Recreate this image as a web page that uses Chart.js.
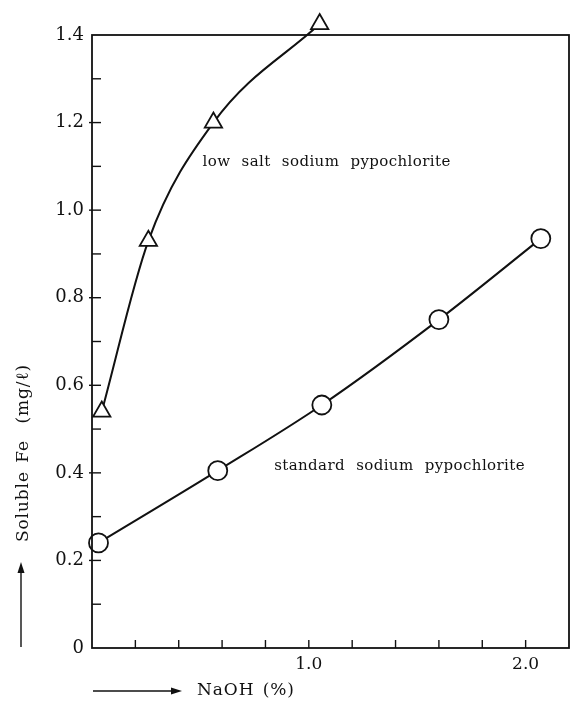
<!DOCTYPE html>
<html>
<head>
<meta charset="utf-8">
<script src="https://cdn.jsdelivr.net/npm/chart.js@4/dist/chart.umd.min.js"></script>
<style>
  html, body { margin: 0; padding: 0; background: #fff; }
  #wrap { width: 582px; height: 707px; }
</style>
</head>
<body>
<div id="wrap"><canvas id="chart" width="582" height="707"></canvas></div>
<script>
// values
const lowSaltNaoh = [0.045, 0.26, 0.56, 1.05];
const lowSaltFe = [0.54, 0.93, 1.20, 1.425];
const standardNaoh = [0.03, 0.58, 1.06, 1.60, 2.07];
const standardFe = [0.24, 0.405, 0.555, 0.75, 0.935];
const xLabelled = [1.0, 2.0];
const xRange = [0, 2.2];
const yRange = [0, 1.4];

const lowSaltLabel = "low salt sodium pypochlorite";
const standardLabel = "standard sodium pypochlorite";
const lowSaltLabelAt = [0.51, 1.11];
const standardLabelAt = [0.84, 0.415];

const ink = "#111";
const serif = "'DejaVu Serif', 'Liberation Serif', serif";

function toPoints(xs, ys) {
  return xs.map((x, i) => ({ x, y: ys[i] }));
}

function arrow(ctx, x1, y1, x2, y2) {
  const ang = Math.atan2(y2 - y1, x2 - x1);
  const head = 11;
  ctx.beginPath();
  ctx.moveTo(x1, y1);
  ctx.lineTo(x2 - Math.cos(ang) * head * 0.8, y2 - Math.sin(ang) * head * 0.8);
  ctx.stroke();
  ctx.beginPath();
  ctx.moveTo(x2, y2);
  ctx.lineTo(x2 - Math.cos(ang) * head - Math.sin(ang) * 3.5, y2 - Math.sin(ang) * head + Math.cos(ang) * 3.5);
  ctx.lineTo(x2 - Math.cos(ang) * head + Math.sin(ang) * 3.5, y2 - Math.sin(ang) * head - Math.cos(ang) * 3.5);
  ctx.closePath();
  ctx.fill();
}

const frame = {
  id: "frame",
  afterDraw(chart) {
    const { ctx, chartArea: a, scales } = chart;
    const xs = scales.x, ys = scales.y;
    ctx.save();
    ctx.strokeStyle = ink;
    ctx.fillStyle = ink;
    ctx.lineWidth = 1.8;
    ctx.strokeRect(a.left, a.top, a.right - a.left, a.bottom - a.top);

    // inward tick marks
    ctx.lineWidth = 1.4;
    ys.ticks.forEach((t) => {
      const y = ys.getPixelForValue(t.value);
      if (t.value <= 0 || t.value >= yRange[1]) return;
      const major = Math.round(t.value * 10) % 2 === 0;
      ctx.beginPath();
      ctx.moveTo(a.left - (major ? 3 : 0), y);
      ctx.lineTo(a.left + 9, y);
      ctx.stroke();
    });
    xs.ticks.forEach((t) => {
      const x = xs.getPixelForValue(t.value);
      if (t.value <= 0 || t.value >= xRange[1]) return;
      ctx.beginPath();
      ctx.moveTo(x, a.bottom);
      ctx.lineTo(x, a.bottom - 8);
      ctx.stroke();
    });

    // curve labels
    ctx.font = "15px " + serif;
    ctx.letterSpacing = "0.4px";
    ctx.wordSpacing = "6px";
    ctx.textBaseline = "middle";
    ctx.textAlign = "left";
    ctx.fillText(lowSaltLabel, xs.getPixelForValue(lowSaltLabelAt[0]), ys.getPixelForValue(lowSaltLabelAt[1]));
    ctx.fillText(standardLabel, xs.getPixelForValue(standardLabelAt[0]), ys.getPixelForValue(standardLabelAt[1]));

    // axis titles with arrows
    ctx.font = "17px " + serif;
    ctx.letterSpacing = "0.9px";
    ctx.wordSpacing = "2px";
    ctx.textAlign = "left";
    ctx.fillText("NaOH (%)", 197, 691);
    ctx.lineWidth = 1.4;
    arrow(ctx, 93, 691, 182, 691);

    ctx.save();
    ctx.translate(24, 453);
    ctx.rotate(-Math.PI / 2);
    ctx.textAlign = "center";
    ctx.fillText("Soluble Fe  (mg/\u2113)", 0, 0);
    ctx.restore();
    arrow(ctx, 21, 647, 21, 562);
    ctx.restore();
  }
};

new Chart(document.getElementById("chart"), {
  type: "line",
  data: {
    datasets: [
      {
        label: "low salt sodium pypochlorite",
        data: toPoints(lowSaltNaoh, lowSaltFe),
        borderColor: ink,
        borderWidth: 2,
        pointStyle: "triangle",
        pointRadius: 10,
        pointBorderWidth: 1.8,
        pointBackgroundColor: "#fff",
        pointBorderColor: ink,
        cubicInterpolationMode: "monotone",
        clip: false
      },
      {
        label: "standard sodium pypochlorite",
        data: toPoints(standardNaoh, standardFe),
        borderColor: ink,
        borderWidth: 2,
        pointStyle: "circle",
        pointRadius: 9.5,
        pointBorderWidth: 1.8,
        pointBackgroundColor: "#fff",
        pointBorderColor: ink,
        cubicInterpolationMode: "monotone",
        clip: false
      }
    ]
  },
  options: {
    responsive: false,
    animation: false,
    layout: { padding: { top: 35, right: 13, left: 0, bottom: 0 } },
    plugins: { legend: { display: false }, tooltip: { enabled: false } },
    scales: {
      x: {
        type: "linear",
        min: xRange[0],
        max: xRange[1],
        grid: { display: false, drawTicks: false },
        border: { display: false },
        ticks: {
          stepSize: 0.2,
          autoSkip: false,
          maxRotation: 0,
          padding: 6,
          color: ink,
          font: { family: serif, size: 17 },
          callback: (v) => (xLabelled.some((l) => Math.abs(l - v) < 1e-6) ? v.toFixed(1) : "")
        },
        afterFit: (s) => { s.height = 59; }
      },
      y: {
        min: yRange[0],
        max: yRange[1],
        grid: { display: false, drawTicks: false },
        border: { display: false },
        ticks: {
          stepSize: 0.1,
          autoSkip: false,
          padding: 8,
          color: ink,
          font: { family: serif, size: 18 },
          callback: (v) => {
            if (Math.abs(v) < 1e-6) return "0";
            return Math.round(v * 10) % 2 === 0 ? v.toFixed(1) : "";
          }
        },
        afterFit: (s) => { s.width = 92; }
      }
    }
  },
  plugins: [frame]
});
</script>
</body>
</html>
